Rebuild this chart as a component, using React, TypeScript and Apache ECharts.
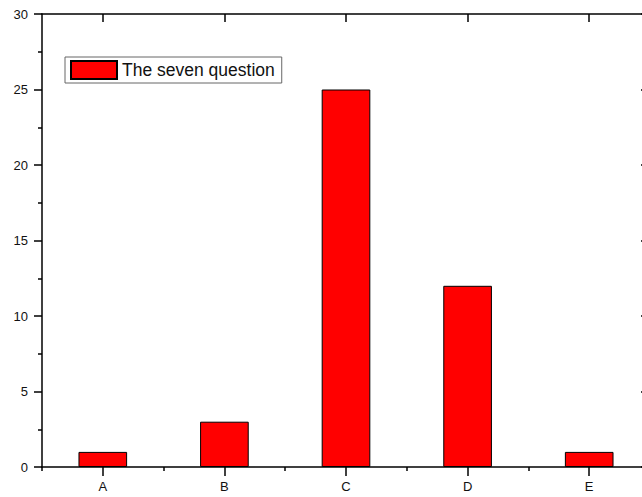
import React, { useEffect, useRef } from "react";
import * as echarts from "echarts";

const categories = ["A", "B", "C", "D", "E"];
const values = [1, 3, 25, 12, 1];
const seriesName = "The seven question";
const yMin = 0;
const yMax = 30;
const yInterval = 5;

const FONT = "'Liberation Sans', Arial, Helvetica, sans-serif";
const LINE = { color: "#000", width: 1.5 };

export default function App() {
  const ref = useRef<HTMLDivElement>(null);
  useEffect(() => {
    document.body.style.margin = "0";
    if (!ref.current) return;
    const chart = echarts.init(ref.current, null, { renderer: "svg" });
    chart.setOption({
      animation: false,
      backgroundColor: "#fff",
      grid: {
        left: 42,
        top: 14,
        width: 608,
        height: 453,
        containLabel: false,
        outerBoundsMode: "none",
      },
      legend: {
        left: 65,
        top: 57,
        orient: "vertical",
        icon: "rect",
        itemWidth: 46,
        itemHeight: 18,
        padding: [3, 7, 3, 5],
        backgroundColor: "#fff",
        borderColor: "#666",
        borderWidth: 1,
        textStyle: { fontSize: 17.5, fontFamily: FONT, color: "#111" },
        data: [seriesName],
      },
      xAxis: [
        {
          type: "category",
          data: categories,
          position: "bottom",
          boundaryGap: true,
          axisLine: { show: true, lineStyle: LINE },
          axisTick: { show: true, alignWithLabel: true, inside: false, length: 9, lineStyle: LINE },
          axisLabel: { fontSize: 13, fontFamily: FONT, color: "#111", margin: 13 },
          splitLine: { show: false },
        },
        {
          type: "category",
          data: categories,
          position: "bottom",
          boundaryGap: true,
          axisLine: { show: false },
          axisTick: { show: true, alignWithLabel: false, inside: false, length: 4, lineStyle: LINE },
          axisLabel: { show: false },
          splitLine: { show: false },
        },
        {
          type: "category",
          data: categories,
          position: "top",
          boundaryGap: true,
          axisLine: { show: true, lineStyle: LINE },
          axisTick: { show: true, alignWithLabel: true, inside: true, length: 8, lineStyle: LINE },
          axisLabel: { show: false },
          splitLine: { show: false },
        },
      ],
      yAxis: [
        {
          type: "value",
          position: "left",
          min: yMin,
          max: yMax,
          interval: yInterval,
          axisLine: { show: true, lineStyle: LINE },
          axisTick: { show: true, inside: false, length: 8, lineStyle: LINE },
          minorTick: { show: true, splitNumber: 2, length: 4, lineStyle: { color: "#000", width: 1.5 } },
          axisLabel: { fontSize: 13, fontFamily: FONT, color: "#111", margin: 14 },
          splitLine: { show: false },
          minorSplitLine: { show: false },
        },
        {
          type: "value",
          position: "right",
          min: yMin,
          max: yMax,
          interval: yInterval,
          axisLine: { show: true, lineStyle: LINE },
          axisTick: { show: true, inside: true, length: 9, lineStyle: LINE },
          axisLabel: { show: false },
          splitLine: { show: false },
        },
      ],
      series: [
        {
          name: seriesName,
          type: "bar",
          xAxisIndex: 0,
          yAxisIndex: 0,
          data: values,
          barWidth: "40%",
          itemStyle: { color: "#ff0000", borderColor: "#000", borderWidth: 1 },
        },
      ],
    });
    return () => chart.dispose();
  }, []);
  return <div ref={ref} style={{ width: 642, height: 497 }} />;
}
